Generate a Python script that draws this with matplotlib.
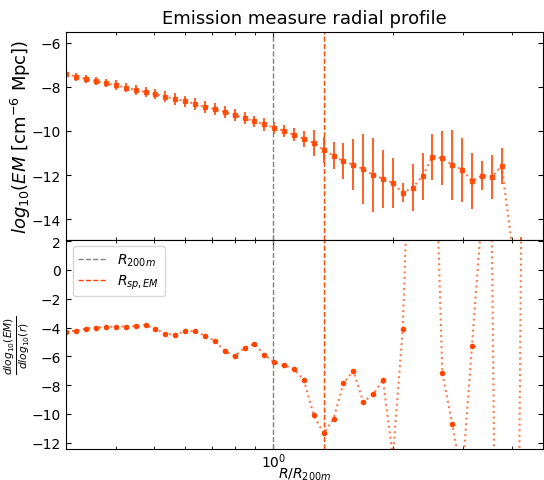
"""Emission measure radial profile with log-slope panel."""

import matplotlib

matplotlib.use("Agg")
import matplotlib.pyplot as plt
from matplotlib.ticker import MultipleLocator, NullFormatter

# radii in units of R_200m
radius = [
    0.3008, 0.3188, 0.3375, 0.3574, 0.3786, 0.4009, 0.4246, 0.4496, 0.4762, 0.5043,
    0.5340, 0.5656, 0.5991, 0.6344, 0.6719, 0.7116, 0.7537, 0.7982, 0.8455, 0.8956,
    0.9484, 1.0044, 1.0639, 1.1266, 1.1932, 1.2639, 1.3385, 1.4173, 1.5010, 1.5903,
    1.6842, 1.7834, 1.8888, 2.0001, 2.1184, 2.2439, 2.3761, 2.5165, 2.6654, 2.8225,
    2.9894, 3.1659, 3.3535, 3.5516, 3.7619, 3.9838, 4.2192,
]

# log10(EM) profile and its uncertainty
log_em = [
    -7.41, -7.53, -7.64, -7.74, -7.83, -7.92, -8.03, -8.14, -8.23, -8.33,
    -8.44, -8.55, -8.65, -8.77, -8.91, -9.01, -9.14, -9.27, -9.42, -9.56,
    -9.70, -9.85, -10.00, -10.17, -10.35, -10.55, -10.86, -11.12, -11.38, -11.53,
    -11.73, -12.00, -12.17, -12.38, -12.80, -12.58, -12.05, -11.18, -11.23, -11.55,
    -11.76, -12.27, -12.03, -12.09, -11.59, -15.05, -16.50,
]
log_em_err = [
    0.18, 0.18, 0.18, 0.18, 0.18, 0.22, 0.22, 0.22, 0.22, 0.22,
    0.26, 0.26, 0.26, 0.26, 0.26, 0.26, 0.26, 0.26, 0.26, 0.26,
    0.28, 0.28, 0.28, 0.30, 0.36, 0.58, 0.60, 0.60, 0.82, 1.16,
    1.60, 1.67, 1.32, 1.14, 0.42, 1.07, 1.07, 1.04, 1.21, 1.58,
    1.45, 1.27, 0.65, 0.98, 0.81, 0.10, 1.70,
]

# logarithmic slope d log10(EM) / d log10(r)
slope = [
    -4.30, -4.21, -4.07, -4.00, -3.97, -3.93, -3.93, -3.90, -3.83, -4.11,
    -4.42, -4.51, -4.25, -4.25, -4.58, -4.92, -5.62, -5.99, -5.41, -5.13,
    -5.90, -6.43, -6.64, -6.89, -7.65, -10.11, -11.36, -10.36, -7.89, -6.99,
    -9.18, -8.65, -7.65, -13.00, -4.11, 17.0, 20.0, 16.0, -7.17, -10.69,
    -14.50, -5.29, 4.00, 2.50, -61.0, -79.0, 5.10,
]

r_200m = 1.0
r_sp_em = 1.3385

COLOR = "orangered"

fig = plt.figure(figsize=(5.44, 4.81), dpi=100)
ax_top = fig.add_axes([0.1213, 0.5, 0.8768, 0.432])
ax_bot = fig.add_axes([0.1213, 0.0644, 0.8768, 0.4356], sharex=ax_top)

# top: profile
ax_top.plot(radius, log_em, ":", color=COLOR, linewidth=1.5, alpha=0.7)
ax_top.errorbar(radius, log_em, yerr=log_em_err, fmt="s", markersize=2.5,
                color=COLOR, ecolor=COLOR, elinewidth=1.4, alpha=0.85)
ax_top.axvline(r_200m, color="gray", linestyle="--", linewidth=1)
ax_top.axvline(r_sp_em, color=COLOR, linestyle="--", linewidth=1)
ax_top.set_ylim(-14.93, -5.49)
ax_top.yaxis.set_major_locator(MultipleLocator(2))
ax_top.set_ylabel(r"$log_{10}(EM$ [cm$^{-6}$ Mpc])", fontsize=13)
ax_top.yaxis.set_label_coords(-0.07, 0.5)
ax_top.set_title("Emission measure radial profile", fontsize=13)
ax_top.tick_params(labelbottom=False)

# bottom: slope
ax_bot.plot(radius, slope, ":", color=COLOR, linewidth=1.5, alpha=0.7)
ax_bot.plot(radius, slope, "o", color=COLOR, markersize=3, linestyle="none")
ax_bot.axvline(r_200m, color="gray", linestyle="--", linewidth=1,
               label=r"$R_{200m}$")
ax_bot.axvline(r_sp_em, color=COLOR, linestyle="--", linewidth=1,
               label=r"$R_{sp,EM}$")
ax_bot.set_ylim(-12.45, 2.12)
ax_bot.yaxis.set_major_locator(MultipleLocator(2))
ax_bot.set_ylabel(r"$\frac{dlog_{10}(EM)}{dlog_{10}(r)}$", fontsize=11)
ax_bot.yaxis.set_label_coords(-0.072, 0.5)
ax_bot.set_xlabel(r"$R/R_{200m}$", fontsize=10, labelpad=-3.5)
ax_bot.legend(loc="upper left", fontsize=10, labelspacing=0.3)

ax_bot.set_xscale("log")
ax_bot.set_xlim(0.3, 4.78)
for ax in (ax_top, ax_bot):
    ax.tick_params(which="both", direction="in", top=True, right=True)
    ax.tick_params(axis="x", which="major", pad=2)
    ax.xaxis.set_minor_formatter(NullFormatter())

fig.savefig("out.png", dpi=100)
plt.close(fig)
